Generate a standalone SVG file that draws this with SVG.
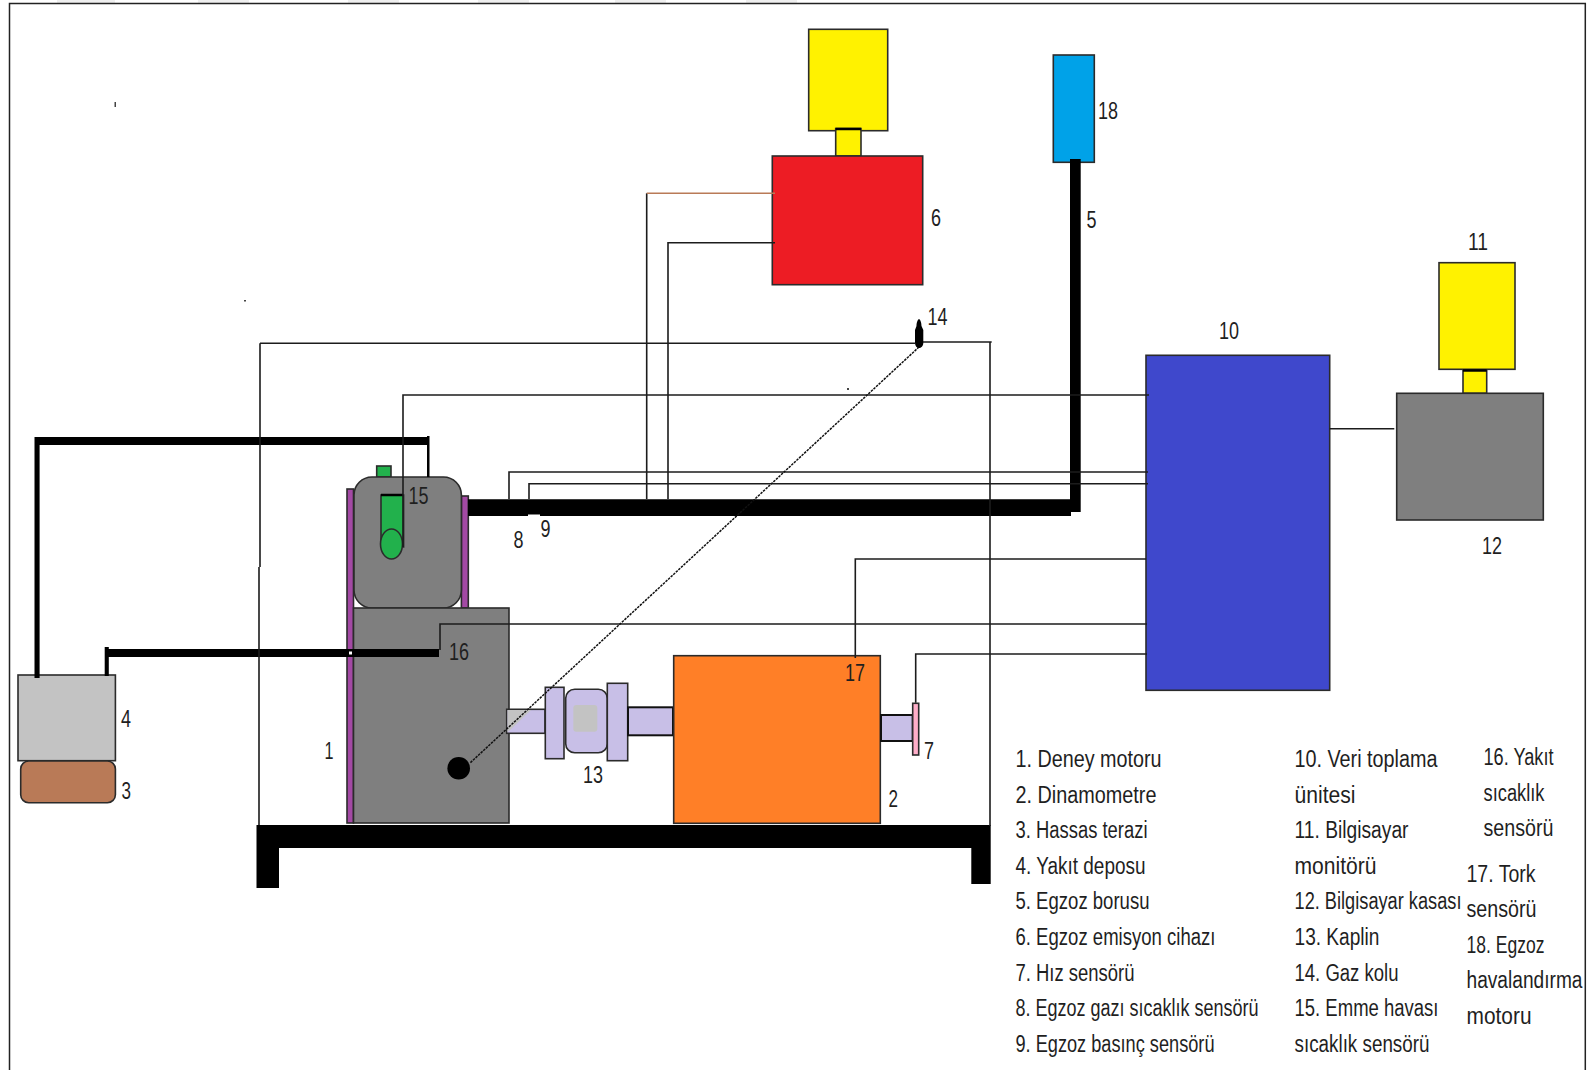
<svg xmlns="http://www.w3.org/2000/svg" width="1588" height="1070" viewBox="0 0 1588 1070">
<style>
.o{stroke:#2b2b2b;stroke-width:1.6}
.t{font-family:"Liberation Sans",Arial,sans-serif;font-size:24px;fill:#1f1f1f}
.l{font-family:"Liberation Sans",Arial,sans-serif;font-size:23.5px;fill:#1f1f1f}
.w{fill:none;stroke:#1c1c1c;stroke-width:1.6}
.k{fill:none;stroke:#000}
.s{fill:#c8bfe7;stroke:#2b2b2b;stroke-width:1.6}
.sp{fill:#c8bfe7;stroke:#111;stroke-width:2}
</style>
<rect width="1588" height="1070" fill="#fff"/>
<g id="frame">
<g fill="#efefef"><rect x="57" y="0" width="58" height="3"/><rect x="198" y="0" width="51" height="3"/><rect x="348" y="0" width="51" height="3"/><rect x="478" y="0" width="51" height="3"/><rect x="615" y="0" width="51" height="3"/><rect x="746" y="0" width="51" height="3"/></g>
<path d="M9.5 1070V3.5H1585.3V1070" fill="none" stroke="#222" stroke-width="1.5"/>
<g fill="#444"><rect x="114.500" y="102" width="1.500" height="5"/><rect x="244" y="300" width="2" height="1.500"/><rect x="847" y="388" width="2" height="2"/></g>
</g>
<g id="table"><path d="M256.500 825H990.700V884H971.300V848H279V888H256.500Z" fill="#000"/></g>
<g id="node-1-engine">
<rect x="347" y="489" width="6.500" height="334" fill="#a349a4" class="o"/>
<rect x="461.400" y="496" width="6.900" height="112" fill="#a349a4" class="o"/>
<rect x="376.700" y="466" width="14.300" height="11" fill="#22b14c" class="o"/>
<rect x="354" y="477" width="107.400" height="131" rx="18" fill="#7f7f7f" class="o"/>
<rect x="353.500" y="608" width="155.500" height="215" fill="#7f7f7f" class="o"/>
</g>
<g id="node-15-intake-sensor">
<path d="M381 495H403.600V547H381Z" fill="#22b14c" class="o"/>
<ellipse cx="391.500" cy="544" rx="11" ry="15" fill="#22b14c" class="o"/>
<path d="M381 495H403" class="k" stroke-width="2.500"/>
</g>
<g id="node-4-fuel-tank"><rect x="18" y="675" width="97.400" height="85.700" fill="#c3c3c3" class="o"/></g>
<g id="node-3-scale"><rect x="20.700" y="761" width="94.700" height="41.700" rx="8" fill="#b97a57" class="o"/></g>
<g id="node-13-coupling">
<rect x="506.700" y="709.300" width="38.300" height="24" class="s"/>
<path d="M507.500 710H531L507.500 732.500Z" fill="#c3c3c3"/>
<rect x="545.300" y="687.300" width="18.700" height="71.400" class="s"/>
<rect x="565.700" y="689.300" width="41.600" height="63.400" rx="9" class="s"/>
<rect x="573.300" y="705" width="24" height="26.700" rx="3" fill="#c3c3c3"/>
<rect x="607.300" y="683.300" width="20.400" height="77.400" class="s"/>
<rect x="628" y="707.300" width="45" height="28" class="sp"/>
</g>
<g id="node-2-dynamometer"><rect x="673.700" y="655.700" width="206.600" height="167.600" fill="#ff7f27" class="o"/></g>
<g id="node-7-speed-sensor">
<rect x="881" y="715" width="31.700" height="26" class="sp"/>
<rect x="912.700" y="703.300" width="6" height="51.700" fill="#ffaec9" class="o"/>
</g>
<g id="node-6-emission-device">
<rect x="808.700" y="29.300" width="79" height="101.400" fill="#fff200" class="o"/>
<rect x="835.700" y="128.500" width="25.300" height="27.500" fill="#fff200" class="o"/>
<path d="M835.700 129H861" class="k" stroke-width="2.500"/>
<rect x="772.300" y="156" width="150.400" height="128.700" fill="#ed1c24" class="o"/>
</g>
<g id="node-18-exhaust-fan"><rect x="1053.300" y="55" width="41" height="107.300" fill="#00a2e8" class="o"/></g>
<g id="node-10-data-unit"><rect x="1146" y="355.300" width="183.700" height="335" fill="#3f48cc" class="o"/></g>
<g id="node-12-11-computer">
<rect x="1439" y="262.700" width="76" height="106.600" fill="#fff200" class="o"/>
<rect x="1463" y="370" width="23.700" height="23.300" fill="#fff200" class="o"/>
<path d="M1463 370.500H1486.700" class="k" stroke-width="2.500"/>
<rect x="1396.700" y="393.300" width="146.600" height="126.700" fill="#7f7f7f" class="o"/>
</g>
<g id="connectors">
<path d="M34.500 437H429V445H39.600V678H34.500Z" fill="#000"/>
<rect x="427" y="436" width="2.500" height="41" fill="#000"/>
<path d="M104.700 676V647H108.800V649H439V657H108.800V676Z" fill="#000"/>
<rect x="349" y="651.500" width="3" height="3" fill="#fff"/>
<path d="M468 499.300H1070V159H1080.700V512H1071V516H468Z" fill="#000"/>
<rect x="528" y="514.500" width="12" height="1.500" fill="#fff"/>
<path d="M260 343.300V567M259 567V825M260 343.300H915M923 342H991.700M990 342V826" class="w"/>
<path d="M646.700 499V193.300" class="w"/>
<path d="M646.700 193.300H775" fill="none" stroke="#b97a57" stroke-width="1.600"/>
<path d="M668 499V242.700H775" class="w"/>
<path d="M403 547V395H1149" class="w"/>
<path d="M509 499V472H1148" class="w"/>
<path d="M529 499V483.700H1148" class="w"/>
<path d="M440 650V624H1147" class="w"/>
<path d="M855.300 658V559H1146" class="w"/>
<path d="M915.700 702.700V654H1147" class="w"/>
<path d="M1329.700 428.700H1394.300" class="w"/>
<path d="M919 347L470 763" fill="none" stroke="#111" stroke-width="1.500" stroke-dasharray="2.500 1"/>
<circle cx="458.700" cy="768.300" r="11.300" fill="#000"/>
<path d="M919 319C921 320 921.500 324 921.500 326L923.300 330V343C923.300 346 921 348 919 348C917 348 915 346 915 343V330L916.500 326C916.500 324 917 320 919 319Z" fill="#000"/>
</g>
<g id="labels">
<text class="t" lengthAdjust="spacingAndGlyphs" x="324.500" y="759" textLength="9">1</text>
<text class="t" lengthAdjust="spacingAndGlyphs" x="888.500" y="807.300" textLength="9.500">2</text>
<text class="t" lengthAdjust="spacingAndGlyphs" x="121.500" y="798.700" textLength="9.500">3</text>
<text class="t" lengthAdjust="spacingAndGlyphs" x="121" y="727" textLength="10">4</text>
<text class="t" lengthAdjust="spacingAndGlyphs" x="1086.500" y="228.300" textLength="10">5</text>
<text class="t" lengthAdjust="spacingAndGlyphs" x="931" y="226" textLength="10">6</text>
<text class="t" lengthAdjust="spacingAndGlyphs" x="924" y="759.300" textLength="10">7</text>
<text class="t" lengthAdjust="spacingAndGlyphs" x="513.500" y="547.700" textLength="10">8</text>
<text class="t" lengthAdjust="spacingAndGlyphs" x="540.500" y="536.700" textLength="10">9</text>
<text class="t" lengthAdjust="spacingAndGlyphs" x="1219" y="339" textLength="20">10</text>
<text class="t" lengthAdjust="spacingAndGlyphs" x="1468" y="250" textLength="20">11</text>
<text class="t" lengthAdjust="spacingAndGlyphs" x="1482" y="554" textLength="20">12</text>
<text class="t" lengthAdjust="spacingAndGlyphs" x="583" y="783.300" textLength="20">13</text>
<text class="t" lengthAdjust="spacingAndGlyphs" x="927.500" y="325" textLength="20">14</text>
<text class="t" lengthAdjust="spacingAndGlyphs" x="408.500" y="504" textLength="20">15</text>
<text class="t" lengthAdjust="spacingAndGlyphs" x="449" y="660" textLength="20">16</text>
<text class="t" lengthAdjust="spacingAndGlyphs" x="845" y="680.700" textLength="20">17</text>
<text class="t" lengthAdjust="spacingAndGlyphs" x="1098" y="119.300" textLength="20">18</text>
</g>
<g id="legend">
<text class="l" lengthAdjust="spacingAndGlyphs" x="1015.500" y="767.300" textLength="146">1. Deney motoru</text>
<text class="l" lengthAdjust="spacingAndGlyphs" x="1015.500" y="802.700" textLength="141">2. Dinamometre</text>
<text class="l" lengthAdjust="spacingAndGlyphs" x="1015.500" y="838.300" textLength="132">3. Hassas terazi</text>
<text class="l" lengthAdjust="spacingAndGlyphs" x="1015.500" y="874" textLength="130">4. Yakıt deposu</text>
<text class="l" lengthAdjust="spacingAndGlyphs" x="1015.500" y="909.300" textLength="134">5. Egzoz borusu</text>
<text class="l" lengthAdjust="spacingAndGlyphs" x="1015.500" y="945" textLength="200">6. Egzoz emisyon cihazı</text>
<text class="l" lengthAdjust="spacingAndGlyphs" x="1015.500" y="980.700" textLength="119">7. Hız sensörü</text>
<text class="l" lengthAdjust="spacingAndGlyphs" x="1015.500" y="1016" textLength="243">8. Egzoz gazı sıcaklık sensörü</text>
<text class="l" lengthAdjust="spacingAndGlyphs" x="1015.500" y="1051.700" textLength="199">9. Egzoz basınç sensörü</text>
<text class="l" lengthAdjust="spacingAndGlyphs" x="1294.500" y="767.300" textLength="143">10. Veri toplama</text>
<text class="l" lengthAdjust="spacingAndGlyphs" x="1294.500" y="802.700" textLength="61">ünitesi</text>
<text class="l" lengthAdjust="spacingAndGlyphs" x="1294.500" y="838.300" textLength="114">11. Bilgisayar</text>
<text class="l" lengthAdjust="spacingAndGlyphs" x="1294.500" y="874" textLength="82">monitörü</text>
<text class="l" lengthAdjust="spacingAndGlyphs" x="1294.500" y="909.300" textLength="167">12. Bilgisayar kasası</text>
<text class="l" lengthAdjust="spacingAndGlyphs" x="1294.500" y="945" textLength="85">13. Kaplin</text>
<text class="l" lengthAdjust="spacingAndGlyphs" x="1294.500" y="980.700" textLength="104">14. Gaz kolu</text>
<text class="l" lengthAdjust="spacingAndGlyphs" x="1294.500" y="1016" textLength="144">15. Emme havası</text>
<text class="l" lengthAdjust="spacingAndGlyphs" x="1294.500" y="1051.700" textLength="135">sıcaklık sensörü</text>
<text class="l" lengthAdjust="spacingAndGlyphs" x="1483.500" y="765" textLength="70">16. Yakıt</text>
<text class="l" lengthAdjust="spacingAndGlyphs" x="1483.500" y="800.700" textLength="61">sıcaklık</text>
<text class="l" lengthAdjust="spacingAndGlyphs" x="1483.500" y="836" textLength="70">sensörü</text>
<text class="l" lengthAdjust="spacingAndGlyphs" x="1466.500" y="882" textLength="69">17. Tork</text>
<text class="l" lengthAdjust="spacingAndGlyphs" x="1466.500" y="917" textLength="70">sensörü</text>
<text class="l" lengthAdjust="spacingAndGlyphs" x="1466.500" y="952.700" textLength="78">18. Egzoz</text>
<text class="l" lengthAdjust="spacingAndGlyphs" x="1466.500" y="988" textLength="116">havalandırma</text>
<text class="l" lengthAdjust="spacingAndGlyphs" x="1466.500" y="1024" textLength="65">motoru</text>
</g>
</svg>
